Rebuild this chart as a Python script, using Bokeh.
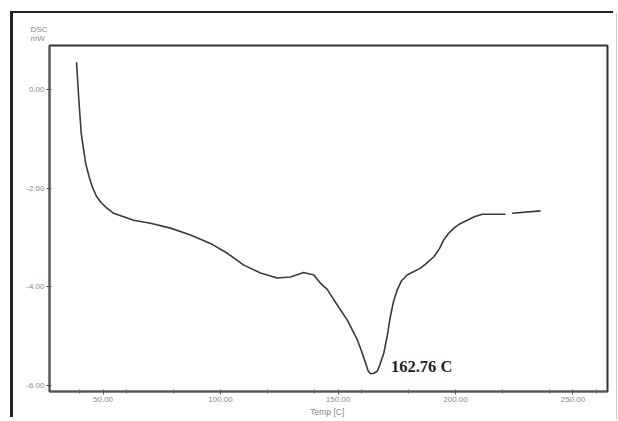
from bokeh.plotting import figure
from bokeh.models import FixedTicker, Label, Range1d, Title
from bokeh.layouts import row, column, Spacer
from bokeh.embed import file_html
from bokeh.resources import INLINE

temp = [38.7, 39.7, 40.7, 42.6, 44.0, 45.4, 47.0, 48.9, 51.5, 54.5, 63.0, 70.2, 78.7,
        87.2, 95.7, 102.9, 109.9, 117.0, 124.1, 129.8, 135.4, 139.7, 142.6, 145.4,
        148.2, 153.9, 158.2, 160.0, 161.7, 162.8, 163.8, 165.3, 166.7, 167.9, 169.5,
        171.0, 172.3, 173.6, 175.2, 177.0, 179.4, 185.1, 187.5, 190.8, 193.0, 195.0,
        197.0, 199.3, 202.0, 205.0, 208.0, 211.4, 221.3, float("nan"), 224.1, 236.2]
dsc = [0.55, -0.22, -0.89, -1.50, -1.76, -1.97, -2.15, -2.28, -2.40, -2.51, -2.65, -2.71, -2.81,
       -2.95, -3.12, -3.32, -3.56, -3.72, -3.82, -3.80, -3.71, -3.76, -3.93, -4.05,
       -4.26, -4.67, -5.07, -5.30, -5.54, -5.70, -5.76, -5.75, -5.71, -5.57, -5.34,
       -4.98, -4.60, -4.30, -4.06, -3.88, -3.76, -3.62, -3.53, -3.39, -3.24, -3.05,
       -2.92, -2.81, -2.72, -2.65, -2.58, -2.53, -2.53, float("nan"), -2.51, -2.46]

x_major = [50, 100, 150, 200, 250]
x_minor = [40, 60, 80, 120, 140, 160, 180, 220, 240, 260]
y_major = [0, -2, -4, -6]
peak_label = "162.76 C"

p = figure(width=603, height=406, output_backend="svg", toolbar_location=None,
           x_range=Range1d(27.2, 264.7), y_range=Range1d(-6.12, 0.89),
           min_border_left=36, min_border_top=32, min_border_right=9, min_border_bottom=27,
           styles={"box-shadow": "-3px -2px 0px 0px #222222, 1px 0px 0px 0px #d0d0d0"})
p.grid.visible = False
p.outline_line_color = "#333333"
p.outline_line_width = 2

p.line(temp, dsc, line_color="#3a3a3a", line_width=1.6)

p.xaxis.ticker = FixedTicker(ticks=x_major, minor_ticks=x_minor)
p.yaxis.ticker = FixedTicker(ticks=y_major, minor_ticks=[])
p.xaxis.major_label_overrides = {v: f"{v:.2f}" for v in x_major}
p.yaxis.major_label_overrides = {v: f"{v:.2f}" for v in y_major}
for ax in (p.xaxis, p.yaxis):
    ax.axis_line_color = "#555555"
    ax.axis_line_width = 1.5
    ax.major_tick_line_color = "#555555"
    ax.minor_tick_line_color = "#666666"
    ax.major_tick_out = 3
    ax.major_tick_in = 2
    ax.minor_tick_out = 2
    ax.minor_tick_in = 2
    ax.major_label_text_color = "#888888"
    ax.major_label_text_font = "Liberation Sans"
    ax.major_label_text_font_size = "8px"
    ax.major_label_standoff = 2

p.xaxis.axis_label = "Temp  [C]"
p.xaxis.axis_label_text_font = "Liberation Sans"
p.xaxis.axis_label_text_font_style = "normal"
p.xaxis.axis_label_text_font_size = "8.5px"
p.xaxis.axis_label_text_color = "#888888"
p.xaxis.axis_label_standoff = 2

p.add_layout(Title(text="DSC\nmW", align="left", offset=-19, standoff=5,
                   text_font="Liberation Sans", text_font_style="normal",
                   text_font_size="8px", text_color="#888888"), "above")

p.add_layout(Label(x=172.5, y=-5.62, text=peak_label, text_align="left",
                   text_baseline="middle", text_font="Liberation Serif",
                   text_font_style="bold", text_font_size="16.5px", text_color="#222222"))

layout = column(Spacer(width=10, height=13),
                row(Spacer(width=13, height=10), p, spacing=0),
                spacing=0)

open("out.html", "w").write(file_html(layout, INLINE))
